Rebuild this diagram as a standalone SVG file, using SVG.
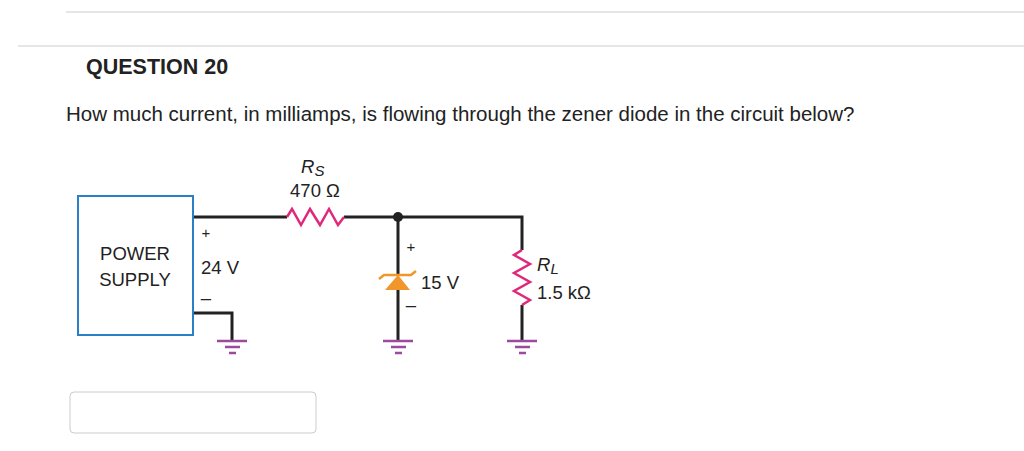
<svg xmlns="http://www.w3.org/2000/svg" width="1024" height="451" viewBox="0 0 1024 451">
<style>
text{font-family:"Liberation Sans",Arial,sans-serif;fill:#222}
.w{stroke:#222;stroke-width:3;fill:none}
.r{stroke:#e0287a;stroke-width:2.5;fill:none}
.g{stroke:#9b4aa0;stroke-width:2.5}
.c{font-size:18.5px}
</style>
<rect width="1024" height="451" fill="#fff"/>
<line x1="66" y1="12" x2="1024" y2="12" stroke="#ccc"/>
<line x1="18" y1="46" x2="1024" y2="46" stroke="#ccc"/>
<text x="86" y="74" font-size="21.5" font-weight="bold">QUESTION 20</text>
<text x="66" y="121" font-size="20.5">How much current, in milliamps, is flowing through the zener diode in the circuit below?</text>
<g id="connectors">
<path class="w" d="M193 217H287M344 217H522V250M522 305V341M193 313H232V341M398 217V275M398 290V341"/>
<circle cx="398" cy="217" r="5" fill="#222"/>
</g>
<g id="supply">
<rect x="78" y="196" width="115" height="139" fill="#fff" stroke="#2a7fc6" stroke-width="2"/>
<text class="c" x="135" y="260" text-anchor="middle">POWER</text>
<text class="c" x="135" y="286" text-anchor="middle">SUPPLY</text>
<text x="206" y="238" text-anchor="middle" font-size="15">+</text>
<text class="c" x="201" y="274">24 V</text>
<text class="c" x="206" y="304" text-anchor="middle">–</text>
</g>
<g id="rs">
<polyline class="r" points="287,217 292,209 301,225 310,209 320,225 329,209 338,225 344,217"/>
<text class="c" x="301" y="173" font-style="italic">R<tspan font-size="15" dy="3">S</tspan></text>
<text class="c" x="315" y="197" text-anchor="middle">470 Ω</text>
</g>
<g id="zener">
<polygon points="385,290 410,290 398,275" fill="#f0962a"/>
<polyline points="379,279 384,275 411,275 416,271" stroke="#f0962a" stroke-width="2.5" fill="none"/>
<text x="411" y="252" text-anchor="middle" font-size="15">+</text>
<text class="c" x="421" y="289">15 V</text>
<text class="c" x="411" y="311" text-anchor="middle">–</text>
</g>
<g id="rl">
<polyline class="r" points="522,250 514,255 530,264 514,273 530,282 514,291 530,300 522,305"/>
<text class="c" x="537" y="271" font-style="italic">R<tspan font-size="15" dy="3">L</tspan></text>
<text class="c" x="537" y="299">1.5 kΩ</text>
</g>
<g id="grounds">
<path class="g" d="M217 341H247M225 347H240M229 353H236M383 341H413M391 347H406M395 353H402M507 341H537M515 347H530M519 353H526"/>
</g>
<rect x="70" y="392" width="246" height="41" rx="4" fill="#fff" stroke="#ccc"/>
</svg>
